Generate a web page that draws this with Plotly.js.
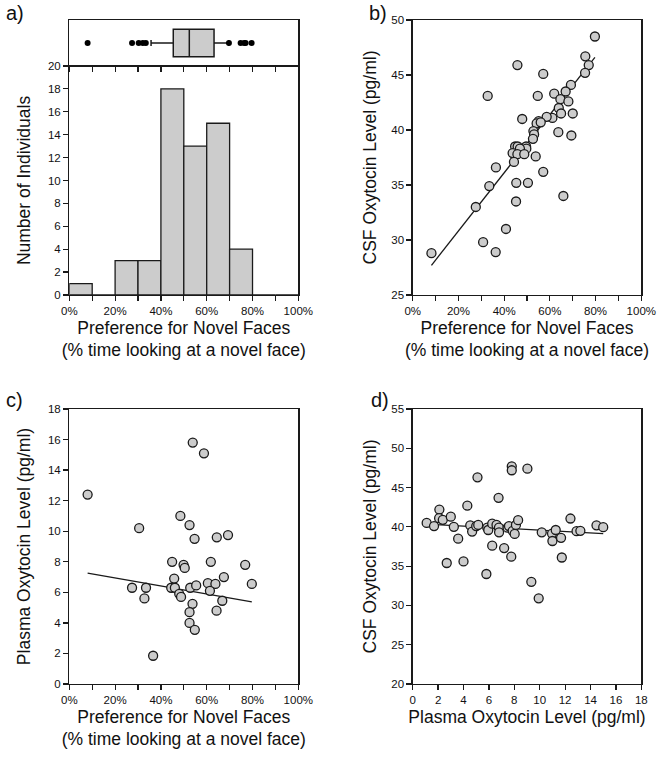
<!DOCTYPE html>
<html><head><meta charset="utf-8">
<script src="https://cdn.plot.ly/plotly-3.0.1.min.js"></script>
<style>html,body{margin:0;padding:0;background:#fff;} #chart{width:660px;height:763px;}</style>
</head><body><div id="chart"></div>
<script>
// ---- Panel a: histogram of preference for novel faces ----
const histBinCenters = [5, 15, 25, 35, 45, 55, 65, 75, 85, 95];
const histCounts     = [1, 0, 3, 3, 18, 13, 15, 4, 0, 0];
// ---- Panel a: box plot summary ----
const boxQ1 = [45.4];
const boxMedian = [52.4];
const boxQ3 = [63.2];
const boxLowerFence = [35.7];
const boxUpperFence = [69.6];
const boxOutliers = [8.0, 27.4, 30.3, 32.1, 33.4, 69.7, 74.8, 76.4, 77.0, 79.6];

// ---- Panel b: preference (%) vs CSF oxytocin ----
const bPref = [79.7, 75.5, 77.0, 75.4, 45.8, 57.1, 32.8, 54.7, 69.2, 66.9, 61.9, 64.6, 68.1, 63.9, 64.9, 70.0,
  61.1, 58.6, 47.9, 55.1, 54.2, 56.0, 63.7, 69.4, 52.8, 53.1, 52.6, 49.6, 49.7, 44.8, 45.9, 46.9, 43.7, 45.8,
  48.8, 53.8, 44.3, 36.4, 57.1, 33.5, 45.3, 50.4, 65.9, 45.2, 27.6, 40.8, 30.8, 36.3, 8.2];
const bCSF = [48.5, 46.7, 45.9, 45.2, 45.9, 45.1, 43.1, 43.1, 44.1, 43.5, 43.3, 42.8, 42.6, 42.0, 41.5, 41.5,
  41.1, 41.2, 41.0, 40.8, 40.6, 40.7, 39.8, 39.5, 39.9, 39.6, 39.2, 38.5, 38.3, 38.5, 38.5, 38.3, 37.9, 37.8,
  37.8, 37.6, 37.1, 36.6, 36.2, 34.9, 35.2, 35.2, 34.0, 33.5, 33.0, 31.0, 29.8, 28.9, 28.8];
const bFitX = [8.2, 79.7];
const bFitY = [27.7, 46.6];

// ---- Panel c: preference (%) vs plasma oxytocin ----
const cPref = [8.0, 53.9, 58.8, 30.5, 48.5, 52.5, 54.7, 64.4, 69.3, 44.9, 49.9, 50.4, 61.8, 76.8, 67.5, 45.8,
  27.4, 33.5, 44.5, 46.1, 52.8, 55.4, 60.5, 63.8, 79.7, 61.4, 48.0, 48.8, 32.8, 66.8, 53.8, 52.5, 64.3, 52.5,
  54.8, 36.6];
const cPlasma = [12.4, 15.8, 15.1, 10.2, 11.0, 10.4, 9.5, 9.6, 9.75, 8.0, 7.8, 7.6, 8.0, 7.8, 7.0, 6.9,
  6.3, 6.3, 6.3, 6.3, 6.3, 6.45, 6.6, 6.55, 6.55, 6.1, 5.9, 5.7, 5.6, 5.45, 5.25, 4.7, 4.8, 4.0,
  3.55, 1.85];
const cFitX = [8.0, 79.7];
const cFitY = [7.26, 5.37];

// ---- Panel d: plasma vs CSF oxytocin ----
const dPlasma = [1.1, 1.68, 2.1, 2.08, 2.37, 3.0, 3.24, 3.58, 2.68, 4.0, 4.3, 5.1, 4.53, 4.68, 5.0, 5.16, 5.8,
  5.87, 5.95, 6.26, 6.26, 6.6, 6.79, 6.8, 6.76, 7.2, 7.47, 7.58, 7.8, 7.8, 7.76, 7.87, 8.03, 8.13, 8.3, 9.03,
  9.34, 9.92, 10.16, 10.97, 11.26, 11.0, 11.68, 11.74, 12.42, 12.9, 13.2, 14.47, 15.0];
const dCSF = [40.5, 40.1, 42.2, 41.1, 40.9, 41.3, 40.0, 38.5, 35.4, 35.6, 42.7, 46.3, 40.2, 39.4, 40.1, 40.25, 34.0,
  39.9, 39.6, 40.4, 37.6, 40.25, 39.9, 39.3, 43.7, 37.3, 39.9, 40.1, 47.7, 47.2, 36.2, 39.5, 39.1, 40.25, 40.85, 47.4,
  33.0, 30.9, 39.3, 39.15, 39.6, 38.2, 38.6, 36.1, 41.06, 39.45, 39.5, 40.2, 39.96];
const dFitX = [1.1, 15.0];
const dFitY = [40.35, 39.15];

const F = 'Liberation Sans, Arial, sans-serif';
const INK = '#1a1a1a';
const FILL = '#cccccc';

const dotMarker = {size: 9, color: FILL, line: {color: INK, width: 1.3}};
const fitLine = {color: INK, width: 1.3};

const traces = [
  {type: 'bar', x: histBinCenters, y: histCounts, width: 10, xaxis: 'x', yaxis: 'y',
   marker: {color: FILL, line: {color: INK, width: 1.3}}, hoverinfo: 'skip'},
  {type: 'box', orientation: 'h', y: [0], q1: boxQ1, median: boxMedian, q3: boxQ3,
   lowerfence: boxLowerFence, upperfence: boxUpperFence, width: 1.2, whiskerwidth: 0.22,
   fillcolor: FILL, line: {color: INK, width: 1.5}, xaxis: 'x2', yaxis: 'y2', boxpoints: false},
  {type: 'scatter', mode: 'markers', x: boxOutliers, y: boxOutliers.map(() => 0), xaxis: 'x2', yaxis: 'y2',
   marker: {size: 6, color: '#000'}},
  {type: 'scatter', mode: 'lines', x: bFitX, y: bFitY, xaxis: 'x3', yaxis: 'y3', line: fitLine},
  {type: 'scatter', mode: 'markers', x: bPref, y: bCSF, xaxis: 'x3', yaxis: 'y3', marker: dotMarker},
  {type: 'scatter', mode: 'lines', x: cFitX, y: cFitY, xaxis: 'x4', yaxis: 'y4', line: fitLine},
  {type: 'scatter', mode: 'markers', x: cPref, y: cPlasma, xaxis: 'x4', yaxis: 'y4', marker: dotMarker},
  {type: 'scatter', mode: 'lines', x: dFitX, y: dFitY, xaxis: 'x5', yaxis: 'y5', line: fitLine},
  {type: 'scatter', mode: 'markers', x: dPlasma, y: dCSF, xaxis: 'x5', yaxis: 'y5', marker: dotMarker}
];

const base = {
  showline: true, linecolor: INK, linewidth: 1.3, mirror: true,
  ticks: 'outside', ticklen: 5, tickwidth: 1.2, tickcolor: INK,
  showgrid: false, zeroline: false, fixedrange: true,
  tickfont: {family: F, size: 11.5, color: '#111'}
};
const titleFont = {family: F, size: 17.5, color: '#111'};
const L = [0.105, 0.452], R = [0.6253, 0.9717];
const prefTitle = 'Preference for Novel Faces<br>(% time looking at a novel face)';
const pctAxis = (dom, anchor) => Object.assign({}, base, {
  domain: dom, anchor: anchor, range: [0, 100], tickmode: 'linear', tick0: 0, dtick: 20, ticksuffix: '%',
  minor: {dtick: 10, ticks: 'outside', ticklen: 5, tickwidth: 1.2, tickcolor: INK},
  title: {text: prefTitle, font: titleFont, standoff: 5}
});

const layout = {
  width: 660, height: 763, margin: {l: 0, r: 0, t: 0, b: 0},
  paper_bgcolor: '#fff', plot_bgcolor: '#fff', showlegend: false, bargap: 0,
  font: {family: F, color: '#111'},
  xaxis: pctAxis(L, 'y'),
  yaxis: Object.assign({}, base, {domain: [0.6134, 0.9135], anchor: 'x', range: [0, 20], dtick: 2,
    title: {text: 'Number of Individuals', font: titleFont, standoff: 12}}),
  xaxis2: Object.assign({}, base, {domain: L, anchor: 'y2', range: [0, 100], dtick: 10, showticklabels: false}),
  yaxis2: Object.assign({}, base, {domain: [0.9135, 0.9738], anchor: 'x2', range: [-1, 1], ticks: '', showticklabels: false}),
  xaxis3: pctAxis(R, 'y3'),
  yaxis3: Object.assign({}, base, {domain: [0.6134, 0.9738], anchor: 'x3', range: [25, 50], dtick: 5,
    title: {text: 'CSF Oxytocin Level (pg/ml)', font: titleFont, standoff: 10}}),
  xaxis4: pctAxis(L, 'y4'),
  yaxis4: Object.assign({}, base, {domain: [0.1035, 0.464], anchor: 'x4', range: [0, 18], dtick: 2,
    title: {text: 'Plasma Oxytocin Level (pg/ml)', font: titleFont, standoff: 12}}),
  xaxis5: Object.assign({}, base, {domain: R, anchor: 'y5', range: [0, 18], dtick: 2,
    title: {text: 'Plasma Oxytocin Level (pg/ml)', font: titleFont, standoff: 5}}),
  yaxis5: Object.assign({}, base, {domain: [0.1035, 0.464], anchor: 'x5', range: [20, 55], dtick: 5,
    title: {text: 'CSF Oxytocin Level (pg/ml)', font: titleFont, standoff: 10}}),
  annotations: [
    {text: 'a)', x: 4, y: 763 - 13},
    {text: 'b)', x: 367, y: 763 - 13},
    {text: 'c)', x: 4, y: 763 - 400},
    {text: 'd)', x: 369, y: 763 - 400}
  ].map(a => Object.assign({xref: 'paper', yref: 'paper', x: a.x / 660, y: a.y / 763,
    xanchor: 'left', yanchor: 'middle', showarrow: false, text: a.text,
    font: {family: F, size: 20, color: '#111'}}))
};

Plotly.newPlot('chart', traces, layout, {displayModeBar: false, staticPlot: true});
</script>
</body></html>
